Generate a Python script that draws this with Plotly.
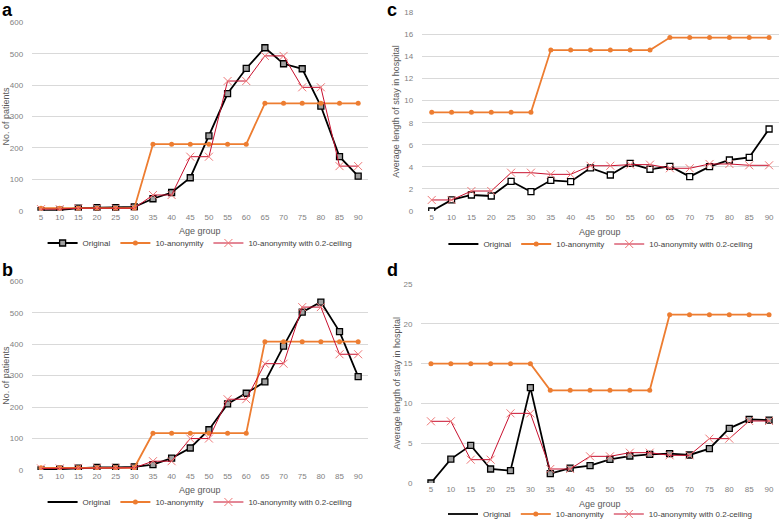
import plotly.graph_objects as go

age_groups = ["5", "10", "15", "20", "25", "30", "35", "40", "45", "50",
              "55", "60", "65", "70", "75", "80", "85", "90"]

# Panel a: No. of patients
a_original = [0, 2, 8, 10, 10, 12, 38, 58, 105, 238, 373, 453, 519, 468, 452, 333, 172, 110]
a_kanon = [8, 8, 8, 8, 8, 8, 212, 212, 212, 212, 212, 212, 342, 342, 342, 342, 342, 342]
a_ceiling = [5, 5, 8, 8, 8, 8, 50, 50, 172, 172, 413, 413, 493, 493, 393, 393, 142, 142]

# Panel b: No. of patients
b_original = [0, 3, 6, 8, 8, 10, 17, 38, 70, 128, 210, 244, 280, 394, 502, 534, 440, 297]
b_kanon = [7, 7, 7, 7, 7, 7, 117, 117, 117, 117, 117, 117, 408, 408, 408, 408, 408, 408]
b_ceiling = [5, 5, 7, 7, 7, 7, 28, 28, 100, 100, 225, 225, 338, 338, 518, 518, 368, 368]

# Panel c: Average length of stay in hospital
c_original = [0, 1.0, 1.45, 1.36, 2.69, 1.75, 2.78, 2.66, 3.9, 3.26, 4.32, 3.78, 4.05, 3.11, 4.02, 4.62, 4.86, 7.43]
c_kanon = [8.94, 8.94, 8.94, 8.94, 8.94, 8.94, 14.58, 14.58, 14.58, 14.58, 14.58, 14.58,
           15.71, 15.71, 15.71, 15.71, 15.71, 15.71]
c_ceiling = [1.0, 1.0, 1.81, 1.81, 3.47, 3.47, 3.32, 3.32, 4.1, 4.1, 4.2, 4.2, 3.87, 3.87, 4.26, 4.26, 4.14, 4.14]

# Panel d: Average length of stay in hospital
d_original = [0, 3.0, 4.73, 1.76, 1.55, 11.98, 1.17, 1.88, 2.18, 2.97, 3.39, 3.6, 3.69, 3.52, 4.31, 6.87, 8.0, 7.9]
d_kanon = [14.99, 14.99, 14.99, 14.99, 14.99, 14.99, 11.64, 11.64, 11.64, 11.64, 11.64, 11.64,
           21.15, 21.15, 21.15, 21.15, 21.15, 21.15]
d_ceiling = [7.75, 7.75, 2.93, 2.93, 8.75, 8.75, 1.76, 1.76, 3.35, 3.35, 3.81, 3.81, 3.48, 3.48, 5.57, 5.57, 7.79, 7.79]

series_names = ["Original", "10-anonymity", "10-anonymity with 0.2-ceiling"]

W, H = 779, 520
FONT = "Liberation Sans, Arial, sans-serif"
BLACK = "#000000"
ORANGE = "#ED7D31"
RED = "#C8102E"
XRED = "#EE7777"

panels = [
    dict(n="", orig=a_original, kan=a_kanon, ceil=a_ceiling, yr=600, dt=100,
         x0=31.7, x1=367.5, yb=210.7, yt=22.3, sq="#a0a0a0", leg=243, xt=231,
         ytitle="No. of patients", ytx=6, letter="a", lx=0, ly=-2, legsq=True),
    dict(n="2", orig=b_original, kan=b_kanon, ceil=b_ceiling, yr=600, dt=100,
         x0=31.7, x1=367.5, yb=470.0, yt=281.3, sq="#a0a0a0", leg=502, xt=490,
         ytitle="No. of patients", ytx=6, letter="b", lx=0, ly=258, legsq=False),
    dict(n="3", orig=c_original, kan=c_kanon, ceil=c_ceiling, yr=18, dt=2,
         x0=421.8, x1=779.0, yb=211.0, yt=12.3, sq="#ffffff", leg=244, xt=232,
         ytitle="Average length of stay in hospital", ytx=396, letter="c", lx=385, ly=-2, legsq=False),
    dict(n="4", orig=d_original, kan=d_kanon, ceil=d_ceiling, yr=25, dt=5,
         x0=421.0, x1=779.0, yb=483.0, yt=284.0, sq="#a0a0a0", leg=514, xt=504,
         ytitle="Average length of stay in hospital", ytx=396, letter="d", lx=385, ly=258, legsq=False),
]

fig = go.Figure()
annotations = []
layout = {}

for i, p in enumerate(panels):
    n = p["n"]
    xa = "x" + n
    ya = "y" + n
    leg = "legend" + n
    show_real = p["legsq"]
    fig.add_trace(go.Scatter(
        x=age_groups, y=p["orig"], name=series_names[0], mode="lines+markers",
        line=dict(color=BLACK, width=1.8),
        marker=dict(symbol="square", size=6, color=p["sq"], line=dict(color=BLACK, width=1.3)),
        xaxis=xa, yaxis=ya, legend=leg, showlegend=show_real))
    if not show_real:
        fig.add_trace(go.Scatter(
            x=[None], y=[None], name=series_names[0], mode="lines",
            line=dict(color=BLACK, width=1.8), xaxis=xa, yaxis=ya, legend=leg,
            showlegend=True))
    fig.add_trace(go.Scatter(
        x=age_groups, y=p["kan"], name=series_names[1], mode="lines+markers",
        line=dict(color=ORANGE, width=1.8),
        marker=dict(symbol="circle", size=5, color=ORANGE),
        xaxis=xa, yaxis=ya, legend=leg))
    fig.add_trace(go.Scatter(
        x=age_groups, y=p["ceil"], name=series_names[2], mode="lines+markers",
        line=dict(color=RED, width=1),
        marker=dict(symbol="x-thin", size=8, line=dict(color=XRED, width=1)),
        xaxis=xa, yaxis=ya, legend=leg))

    xkey = "xaxis" + n
    ykey = "yaxis" + n
    layout[xkey] = dict(
        domain=[p["x0"] / W, min(p["x1"] / W, 1.0)], anchor=ya, type="category",
        range=[-0.5, 17.5], showgrid=False, showline=False, zeroline=False,
        automargin=False, ticks="", ticklen=0,
        tickfont=dict(family=FONT, size=8, color="#7f7f7f"), fixedrange=True)
    layout[ykey] = dict(
        domain=[1 - p["yb"] / H, 1 - p["yt"] / H], anchor=xa, automargin=False,
        range=[0, p["yr"]], dtick=p["dt"], showgrid=True, gridcolor="#d9d9d9",
        gridwidth=1, zeroline=False, showline=False,
        ticks="outside", ticklen=6, tickcolor="rgba(0,0,0,0)",
        tickfont=dict(family=FONT, size=8, color="#7f7f7f"))
    layout[leg] = dict(
        orientation="h", x=(p["x0"] + min(p["x1"], 779)) / 2 / W, xanchor="center",
        y=1 - p["leg"] / H, yanchor="middle", font=dict(family=FONT, size=8, color="#404040"),
        bgcolor="rgba(0,0,0,0)", itemwidth=30, tracegroupgap=0, traceorder="normal")

    annotations.append(dict(
        text="Age group", x=(p["x0"] + min(p["x1"], 779)) / 2 / W, y=1 - p["xt"] / H,
        xref="paper", yref="paper", showarrow=False, xanchor="center", yanchor="middle",
        font=dict(family=FONT, size=9, color="#595959")))
    annotations.append(dict(
        text=p["ytitle"], x=p["ytx"] / W, y=1 - (p["yb"] + p["yt"]) / 2 / H,
        xref="paper", yref="paper", showarrow=False, xanchor="center", yanchor="middle",
        textangle=-90, font=dict(family=FONT, size=9, color="#595959")))
    annotations.append(dict(
        text="<b>" + p["letter"] + "</b>", x=p["lx"] / W, y=1 - p["ly"] / H,
        xref="paper", yref="paper", showarrow=False, xanchor="left", yanchor="top",
        font=dict(family=FONT, size=18, color="#000000")))

fig.update_layout(
    width=W, height=H, margin=dict(l=0, r=0, t=0, b=0, autoexpand=False),
    paper_bgcolor="white", plot_bgcolor="white",
    annotations=annotations, **layout)

fig.write_html(
    "out.html",
    config={"displayModeBar": False},
    post_script="document.body.style.margin='0px';document.body.style.overflow='hidden';")
